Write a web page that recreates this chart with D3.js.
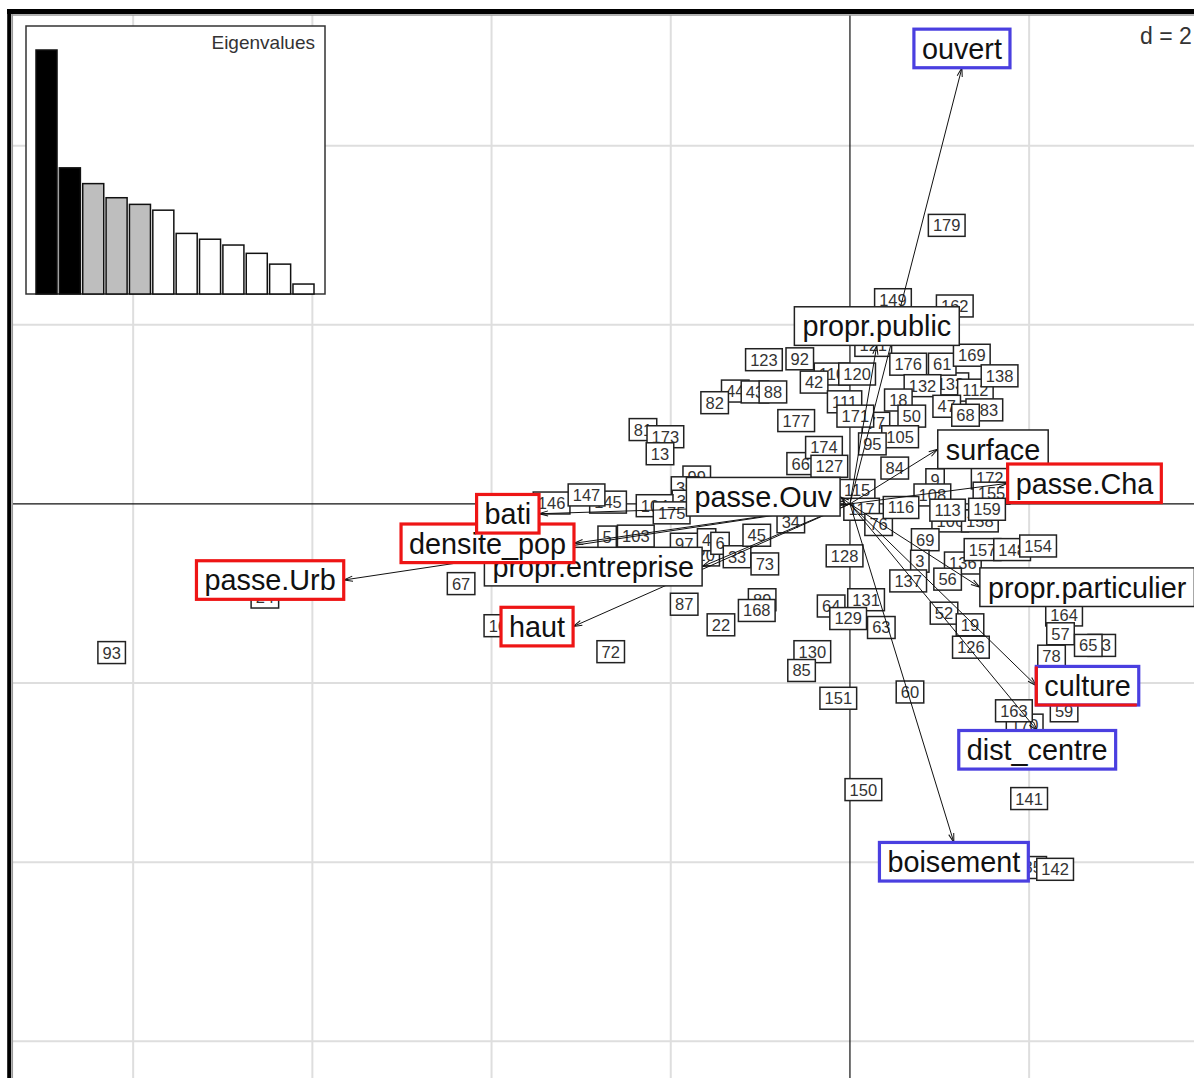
<!DOCTYPE html>
<html>
<head>
<meta charset="utf-8">
<script src="https://cdn.jsdelivr.net/npm/d3@7"></script>
<style>
  body { margin: 0; background: #fff; }
  svg { display: block; font-family: "Liberation Sans", Arial, sans-serif; }
</style>
</head>
<body>
<div id="chart"></div>
<script>
// eigenvalues of the analysis
var eigenvalues = [2.94, 1.52, 1.33, 1.16, 1.08, 1.01, 0.73, 0.66, 0.59, 0.49, 0.36, 0.12];

// variable arrows (coordinates on axes 1 and 2)
var varNames = ["ouvert", "propr.public", "surface", "propr.particulier", "passe.Ouv", "propr.entreprise",
                "passe.Cha", "culture", "dist_centre", "boisement", "densite_pop", "bati",
                "passe.Urb", "haut"];
var varX = [1.25, 0.30, 0.98, 1.45, -0.11, -1.65, 1.76, 2.08, 2.09, 1.16, -3.08, -3.47, -5.65, -3.09];
var varY = [4.87, 1.77, 0.61, -0.93, 0.08, -0.70, 0.23, -2.03, -2.53, -3.78, -0.44, -0.11, -0.85, -1.37];

// row scores (numbered sites)
var rowLabels = ["121","110","44","43","88","123","92","42","120","133","176","61","112","169","138",
  "132","183","47","68","82","111","18","177","77","171","50","105","81","173","13","66","174","127",
  "95","84","9","108","172","155","115","117","76","116","106","158","113","159","99","39","38","146",
  "145","147","104","175","5","103","20","97","4","6","33","45","73","34","128","69","3","136","157",
  "148","154","137","56","131","64","129","63","52","19","126","164","57","53","65","78","170","163",
  "59","87","89","168","22","72","67","16","130","85","151","60","150","141","35","142","93","24",
  "162","149","179"];
var rowX = [0.26,-0.20,-1.28,-1.06,-0.86,-0.96,-0.56,-0.40,0.08,1.12,0.65,1.03,1.40,1.36,1.67,
  0.81,1.50,1.08,1.29,-1.51,-0.06,0.54,-0.60,0.29,0.06,0.69,0.56,-2.31,-2.06,-2.12,-0.55,-0.29,-0.23,
  0.25,0.50,0.95,0.92,1.56,1.58,0.08,0.13,0.32,0.57,1.12,1.45,1.09,1.53,-1.71,-1.84,-1.83,-3.33,
  -2.70,-2.94,-2.18,-1.99,-2.71,-2.39,-1.61,-1.85,-1.60,-1.45,-1.26,-1.04,-0.95,-0.66,-0.06,0.84,0.78,1.26,1.48,
  1.81,2.10,0.65,1.09,0.18,-0.21,-0.02,0.35,1.05,1.34,1.35,2.39,2.35,2.81,2.66,2.25,1.95,1.83,
  2.39,-1.85,-0.98,-1.04,-1.44,-2.67,-4.34,-3.93,-0.42,-0.54,-0.13,0.67,0.15,2.00,2.04,2.29,-8.24,-6.53,
  1.17,0.48,1.08];
var rowY = [1.77,1.45,1.26,1.25,1.25,1.61,1.62,1.36,1.45,1.34,1.56,1.56,1.27,1.66,1.43,
  1.32,1.05,1.09,0.99,1.13,1.14,1.16,0.93,0.90,0.98,0.98,0.75,0.83,0.75,0.56,0.45,0.63,0.42,
  0.67,0.40,0.27,0.10,0.29,0.12,0.15,-0.06,-0.23,-0.04,-0.19,-0.19,-0.07,-0.06,0.30,0.18,0.03,0.01,
  0.02,0.10,-0.02,-0.10,-0.37,-0.36,-0.57,-0.45,-0.40,-0.44,-0.59,-0.35,-0.67,-0.20,-0.58,-0.40,-0.64,-0.66,-0.51,
  -0.51,-0.47,-0.86,-0.84,-1.07,-1.14,-1.28,-1.38,-1.22,-1.35,-1.60,-1.24,-1.45,-1.58,-1.58,-1.70,-2.47,-2.31,
  -2.31,-1.12,-1.07,-1.19,-1.35,-1.65,-0.89,-1.36,-1.65,-1.86,-2.17,-2.10,-3.19,-3.29,-4.06,-4.08,-1.66,-1.04,
  2.21,2.28,3.11];

// hand-drawn highlight frames
var blue = "#4a3fe0", red = "#ee1515";
var highlight = { "ouvert": blue, "dist_centre": blue, "boisement": blue, "culture": "both",
                  "passe.Cha": red, "bati": red, "densite_pop": red, "passe.Urb": red, "haut": red };

var w = 1194, h = 1078;
var svg = d3.select("#chart").append("svg").attr("width", w).attr("height", h);

var x = d3.scaleLinear().domain([-9.33, 3.84]).range([14, 1194]);
var y = d3.scaleLinear().domain([5.47, -6.41]).range([14, 1078]);

svg.append("rect").attr("width", w).attr("height", h).attr("fill", "#fff");

// grid every d = 2
var grid = svg.append("g");
grid.selectAll("line.gx").data(d3.range(-8, 4, 2).filter(function(d){ return d != 0; }))
  .enter().append("line")
  .attr("x1", function(d){ return x(d); }).attr("x2", function(d){ return x(d); })
  .attr("y1", 15).attr("y2", h)
  .attr("stroke", "#dedede").attr("stroke-width", 2);
grid.selectAll("line.gy").data(d3.range(-6, 6, 2).filter(function(d){ return d != 0; }))
  .enter().append("line")
  .attr("y1", function(d){ return y(d); }).attr("y2", function(d){ return y(d); })
  .attr("x1", 13).attr("x2", w)
  .attr("stroke", "#dedede").attr("stroke-width", 2);

// axes through origin
svg.append("line").attr("x1", x(0)).attr("x2", x(0)).attr("y1", 15).attr("y2", h)
  .attr("stroke", "#111").attr("stroke-width", 1.2);
svg.append("line").attr("y1", y(0)).attr("y2", y(0)).attr("x1", 13).attr("x2", w)
  .attr("stroke", "#111").attr("stroke-width", 1.2);

// eigenvalue inset
var inset = svg.append("g");
inset.append("rect").attr("x", 26).attr("y", 26).attr("width", 299).attr("height", 268)
  .attr("fill", "#fff").attr("stroke", "#333").attr("stroke-width", 1.5);
var xe = d3.scaleBand().domain(d3.range(eigenvalues.length)).range([36, 314]).paddingInner(0.1);
var ye = d3.scaleLinear().domain([0, d3.max(eigenvalues)]).range([294, 50]);
inset.selectAll("rect.bar").data(eigenvalues).enter().append("rect")
  .attr("x", function(d, i){ return xe(i); })
  .attr("y", function(d){ return ye(d); })
  .attr("width", xe.bandwidth())
  .attr("height", function(d){ return 294 - ye(d); })
  .attr("fill", function(d, i){ return i < 2 ? "#000" : (i < 5 ? "#bebebe" : "#fff"); })
  .attr("stroke", "#111").attr("stroke-width", 1.5);
inset.append("text").attr("x", 315).attr("y", 49).attr("text-anchor", "end")
  .attr("font-size", 19).attr("fill", "#333").text("Eigenvalues");

// numbered site labels
var fsRow = 16.5;
var rows = svg.append("g").selectAll("g").data(rowLabels).enter().append("g")
  .attr("transform", function(d, i){ return "translate(" + x(rowX[i]) + "," + y(rowY[i]) + ")"; });
rows.append("rect");
rows.append("text").text(function(d){ return d; })
  .attr("text-anchor", "middle").attr("dy", "0.36em")
  .attr("font-size", fsRow).attr("fill", "#333");
rows.each(function(){
  var g = d3.select(this);
  var bw = g.select("text").node().getComputedTextLength() + 2 * 0.278 * fsRow;
  var bh = fsRow * 1.33;
  g.select("rect").attr("x", -bw / 2).attr("y", -bh / 2).attr("width", bw).attr("height", bh)
    .attr("fill", "#fff").attr("stroke", "#222").attr("stroke-width", 1.5);
});

// arrows
svg.append("defs").append("marker").attr("id", "head")
  .attr("viewBox", "-11 -4 12 8").attr("refX", 0).attr("refY", 0)
  .attr("markerWidth", 12).attr("markerHeight", 8).attr("markerUnits", "userSpaceOnUse")
  .attr("orient", "auto")
  .append("path").attr("d", "M-9,-2.6L0,0L-9,2.6").attr("fill", "none")
  .attr("stroke", "#111").attr("stroke-width", 1);
svg.append("g").selectAll("line").data(varNames).enter().append("line")
  .attr("x1", x(0)).attr("y1", y(0))
  .attr("x2", function(d, i){ return x(varX[i]); })
  .attr("y2", function(d, i){ return y(varY[i]); })
  .attr("stroke", "#111").attr("stroke-width", 1)
  .attr("marker-end", "url(#head)");

// variable labels, placed like ade4 scatterutil.eti.circ
var fsVar = 28.8;
var vars = svg.append("g").selectAll("g").data(varNames).enter().append("g");
vars.append("rect");
vars.append("text").text(function(d){ return d; })
  .attr("text-anchor", "middle").attr("dy", "0.36em")
  .attr("font-size", fsVar).attr("fill", "#111");
vars.each(function(d, i){
  var g = d3.select(this);
  var bw = g.select("text").node().getComputedTextLength() + 2 * 0.278 * fsVar;
  var bh = fsVar * 1.34;
  var xr = varX[i], yr = varY[i];
  var cx = x(xr), cy = y(yr);
  if (xr > yr && xr > -yr) cx += bw / 2;
  else if (xr > yr && xr <= -yr) cy += bh / 2;
  else if (xr <= yr && xr <= -yr) cx -= bw / 2;
  else cy -= bh / 2;
  g.attr("transform", "translate(" + cx + "," + cy + ")");
  var hl = highlight[d];
  g.select("rect").attr("x", -bw / 2).attr("y", -bh / 2).attr("width", bw).attr("height", bh)
    .attr("fill", "#fff")
    .attr("stroke", hl && hl != "both" ? hl : (hl ? blue : "#222"))
    .attr("stroke-width", hl ? 3.2 : 1.5);
  if (hl == "both") {
    g.append("path")
      .attr("d", "M" + (-bw / 2) + "," + (-bh / 2) + "V" + (bh / 2) + "H" + (bw / 2 - 2))
      .attr("fill", "none").attr("stroke", red).attr("stroke-width", 3.2);
  }
});

// scale note
svg.append("text").attr("x", 1140).attr("y", 44).attr("font-size", 23).attr("fill", "#333")
  .text("d = 2");

// outer frame
svg.append("line").attr("x1", 7).attr("x2", w).attr("y1", 11.5).attr("y2", 11.5)
  .attr("stroke", "#000").attr("stroke-width", 5);
svg.append("line").attr("x1", 9.2).attr("x2", 9.2).attr("y1", 9).attr("y2", h)
  .attr("stroke", "#000").attr("stroke-width", 4);
svg.append("line").attr("x1", 11.5).attr("x2", w).attr("y1", 15).attr("y2", 15)
  .attr("stroke", "#999").attr("stroke-width", 1.5);
svg.append("line").attr("x1", 12.3).attr("x2", 12.3).attr("y1", 14).attr("y2", h)
  .attr("stroke", "#999").attr("stroke-width", 1.5);
</script>
</body>
</html>
